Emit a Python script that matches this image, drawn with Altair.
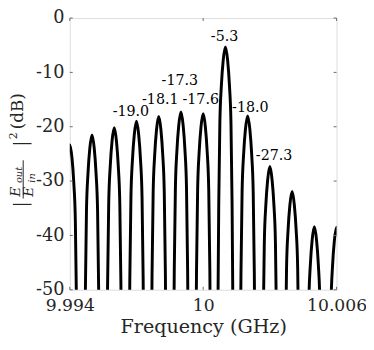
import altair as alt
import pandas as pd

# ---------------- data ----------------
# lobe centres (GHz)
lobe_centers = [9.994, 9.995, 9.996, 9.997, 9.998, 9.999, 10.000,
                10.001, 10.002, 10.003, 10.004, 10.005, 10.006]
# sample offsets inside each lobe (MHz from the lobe centre)
lobe_offsets = [-0.34, -0.30, -0.25, -0.18, -0.10, 0.0, 0.10, 0.18, 0.25, 0.30, 0.34]
# dB values at those offsets, one list per lobe
lobe_db = [
    [-73.3, -52.3, -37.3, -30.3, -25.8, -23.3, -25.8, -30.3, -37.3, -52.3, -73.3],
    [-71.5, -50.5, -35.5, -28.5, -24.0, -21.5, -24.0, -28.5, -35.5, -50.5, -71.5],
    [-70.2, -49.2, -34.2, -27.2, -22.7, -20.2, -22.7, -27.2, -34.2, -49.2, -70.2],
    [-69.0, -48.0, -33.0, -26.0, -21.5, -19.0, -21.5, -26.0, -33.0, -48.0, -69.0],
    [-68.1, -47.1, -32.1, -25.1, -20.6, -18.1, -20.6, -25.1, -32.1, -47.1, -68.1],
    [-67.3, -46.3, -31.3, -24.3, -19.8, -17.3, -19.8, -24.3, -31.3, -46.3, -67.3],
    [-67.6, -46.6, -31.6, -24.6, -20.1, -17.6, -20.1, -24.6, -31.6, -46.6, -67.6],
    [-55.3, -34.3, -19.3, -12.3, -7.8, -5.3, -7.8, -12.3, -19.3, -34.3, -55.3],
    [-68.0, -47.0, -32.0, -25.0, -20.5, -18.0, -20.5, -25.0, -32.0, -47.0, -68.0],
    [-77.3, -56.3, -41.3, -34.3, -29.8, -27.3, -29.8, -34.3, -41.3, -56.3, -77.3],
    [-81.9, -60.9, -45.9, -38.9, -34.4, -31.9, -34.4, -38.9, -45.9, -60.9, -81.9],
    [-88.4, -67.4, -52.4, -45.4, -40.9, -38.4, -40.9, -45.4, -52.4, -67.4, -88.4],
    [-88.5, -67.5, -52.5, -45.5, -41.0, -38.5, -41.0, -45.5, -52.5, -67.5, -88.5],
]

# peak annotations (text and anchor in data units)
label_text = ["-19.0", "-18.1", "-17.3", "-17.6", "-5.3", "-18.0", "-27.3"]
label_freq = [9.99675, 9.99807, 9.99895, 9.99989, 10.00096, 10.00212, 10.00319]
label_db = [-17.26, -15.11, -11.52, -15.11, -3.46, -16.49, -25.45]

x_ticks = [9.994, 10, 10.006]
y_ticks = [0, -10, -20, -30, -40, -50]

# ---------------- tables ----------------
rows = []
for i, (c, vals) in enumerate(zip(lobe_centers, lobe_db)):
    for o, v in zip(lobe_offsets, vals):
        rows.append({"lobe": i, "f": round(c + o * 0.001, 7), "db": v})
curve = pd.DataFrame(rows)
labels = pd.DataFrame({"t": label_text, "f": label_freq, "db": label_db})
xt = pd.DataFrame({"f": x_ticks})
yt = pd.DataFrame({"db": y_ticks})

PAD_L, PAD_T = 63, 7
W, H = 272, 277
FONT = "DejaVu Serif"
TXT = "#262626"
FRAME = "#6a6a6a"

xs = alt.Scale(domain=[9.994, 10.006], nice=False, zero=False)
ys = alt.Scale(domain=[-50, 0], nice=False, zero=False)
xaxis = alt.Axis(values=x_ticks, labelExpr="'' + datum.value", title="Frequency (GHz)",
                 grid=False, ticks=False, tickSize=0, domain=False, labelFontSize=17.5,
                 labelFont=FONT, labelColor=TXT, labelPadding=7, titleFont=FONT,
                 titleFontSize=19.5, titleFontWeight="normal", titleColor=TXT, titlePadding=4,
                 labelFlush=False, labelOverlap=False)
yaxis = alt.Axis(values=y_ticks, labelExpr="'' + datum.value", title=None,
                 grid=False, ticks=False, tickSize=0, domain=False, labelFontSize=18,
                 labelFont=FONT, labelColor=TXT, labelPadding=6, labelFlush=False,
                 labelOverlap=False)
X = alt.X("f:Q", scale=xs, axis=xaxis)
Y = alt.Y("db:Q", scale=ys, axis=yaxis)

lines = alt.Chart(curve).mark_line(
    color="black", strokeWidth=3, interpolate="monotone", clip=True
).encode(x=X, y=Y, detail="lobe:N")

text = alt.Chart(labels).mark_text(
    font=FONT, fontSize=14.5, color="black", align="center", baseline="middle"
).encode(x=X, y=Y, text="t:N")

tk = dict(color=FRAME, strokeWidth=1)
yl = alt.Chart(yt).mark_rule(**tk).encode(y=Y, x=alt.value(0), x2=alt.value(3))
yr = alt.Chart(yt).mark_rule(**tk).encode(y=Y, x=alt.value(W - 3), x2=alt.value(W))
xb = alt.Chart(xt).mark_rule(**tk).encode(x=X, y=alt.value(H - 3), y2=alt.value(H))
xtp = alt.Chart(xt).mark_rule(**tk).encode(x=X, y=alt.value(0), y2=alt.value(3))

# y-axis title  |E_out / E_in|^2 (dB), drawn rotated (page coordinates below)
OX, OY = 8 + PAD_L, 8 + PAD_T
one = pd.DataFrame({"a": [0]})
def rt(s, px, py, size, italic=False):
    return alt.Chart(one).mark_text(
        text=s, font=FONT, fontSize=size, color=TXT, angle=270, align="center",
        baseline="middle", fontStyle="italic" if italic else "normal"
    ).encode(x=alt.value(px - OX), y=alt.value(py - OY))

def hr(px1, px2, py, w=1.2):
    return alt.Chart(one).mark_rule(color=TXT, strokeWidth=w).encode(
        x=alt.value(px1 - OX), x2=alt.value(px2 - OX), y=alt.value(py - OY))

def vr(px, py1, py2):
    return alt.Chart(one).mark_rule(color=TXT, strokeWidth=1).encode(
        x=alt.value(px - OX), y=alt.value(py1 - OY), y2=alt.value(py2 - OY))

ytitle = [
    rt("(dB)", 18, 110, 17),
    rt("2", 14, 135, 11),
    hr(13, 32, 143),
    rt("E", 16, 192, 14, True),
    rt("out", 19, 175, 10, True),
    vr(23.5, 160, 199),
    rt("E", 29.5, 192, 14, True),
    rt("in", 32.5, 178, 10, True),
    hr(13, 32, 205),
]

chart = alt.layer(lines, text, yl, yr, xb, xtp, *ytitle).properties(
    width=W, height=H,
    autosize=alt.AutoSizeParams(type="none"),
    padding={"left": PAD_L, "top": PAD_T, "right": 30, "bottom": 50},
).configure_view(stroke=FRAME, strokeWidth=1).configure(background="white")

chart.save("out.html", embed_options={"renderer": "svg", "actions": False})
